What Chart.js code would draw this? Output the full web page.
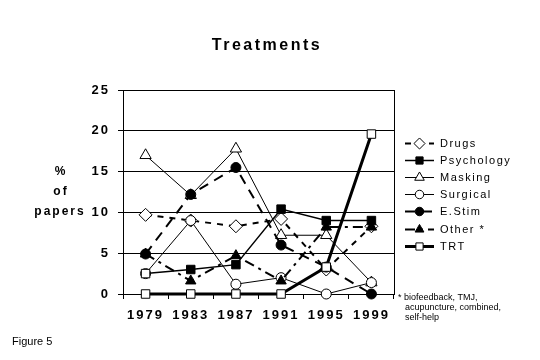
<!DOCTYPE html>
<html>
<head>
<meta charset="utf-8">
<script src="https://cdn.jsdelivr.net/npm/chart.js@4/dist/chart.umd.min.js"></script>
<style>
html,body{margin:0;padding:0;background:#fff;}
canvas{display:block;}
</style>
</head>
<body>
<canvas id="c" width="540" height="360"></canvas>
<script>
const years = ['1979', '1983', '1987', '1991', '1995', '1999'];
const yTicks = [0, 5, 10, 15, 20, 25];
const drugs      = [9.7, 9.0, 8.3, 9.2, 3.0, 8.3];
const psychology = [2.5, 3.0, 3.6, 10.4, 9.0, 9.0];
const masking    = [17.0, 12.1, 17.8, 7.2, 7.2, 1.4];
const surgical   = [2.5, 9.0, 1.2, 2.0, 0, 1.4];
const eStim      = [4.9, 12.2, 15.5, 6.0, 3.3, 0];
const other      = [4.9, 1.6, 4.7, 1.6, 8.2, 8.2];
const trt        = [0, 0, 0, 0, 3.3, 19.6];
const seriesNames = ['Drugs', 'Psychology', 'Masking', 'Surgical', 'E.Stim', 'Other *', 'TRT'];
const footnote = ['* biofeedback, TMJ,', 'acupuncture, combined,', 'self-help'];

const FONT = '"Liberation Sans", Arial, sans-serif';

function ds(label, data, style, order) {
  return Object.assign({
    label, data, order,
    borderColor: '#000',
    pointBorderColor: '#000',
    pointBorderWidth: 1,
    tension: 0,
    clip: false
  }, style);
}

const datasets = [
  ds(seriesNames[0], drugs, {borderWidth: 2, borderDash: [6, 6], pointStyle: 'rectRot', pointRadius: 6.5, pointBackgroundColor: '#fff'}, 6),
  ds(seriesNames[1], psychology, {borderWidth: 1.5, pointStyle: 'rect', pointRadius: 6, pointBackgroundColor: ['#fff', '#000', '#000', '#000', '#000', '#000']}, 3),
  ds(seriesNames[2], masking, {borderWidth: 1, pointStyle: 'triangle', pointRadius: 6.5, pointBackgroundColor: '#fff'}, 5),
  ds(seriesNames[3], surgical, {borderWidth: 1, pointStyle: 'circle', pointRadius: 5, pointBackgroundColor: '#fff'}, 4),
  ds(seriesNames[4], eStim, {borderWidth: 2, borderDash: [10, 7], pointStyle: 'circle', pointRadius: 5, pointBackgroundColor: '#000'}, 2),
  ds(seriesNames[5], other, {borderWidth: 2, borderDash: [10, 5, 3, 5], pointStyle: 'triangle', pointRadius: 6, pointBackgroundColor: '#000'}, 1),
  ds(seriesNames[6], trt, {borderWidth: 3, pointStyle: 'rect', pointRadius: 6, pointBackgroundColor: '#fff'}, 0)
];

const spacingPlugin = {
  id: 'spacing',
  beforeDraw(chart) { chart.ctx.letterSpacing = '2px'; },
  afterDraw(chart) {
    const ctx = chart.ctx;
    const a = chart.chartArea;
    ctx.save();
    // right frame line
    ctx.strokeStyle = '#000';
    ctx.lineWidth = 1;
    ctx.beginPath();
    ctx.moveTo(Math.round(a.right) + 0.5, a.top);
    ctx.lineTo(Math.round(a.right) + 0.5, a.bottom);
    ctx.stroke();

    ctx.fillStyle = '#000';
    // title
    ctx.letterSpacing = '2.5px';
    ctx.font = 'bold 16px ' + FONT;
    ctx.textAlign = 'center';
    ctx.textBaseline = 'middle';
    ctx.fillText('Treatments', 267, 46);

    // y axis title
    ctx.letterSpacing = '2px';
    ctx.font = 'bold 12px ' + FONT;
    ctx.fillText('%', 61, 172);
    ctx.fillText('of', 61, 192);
    ctx.fillText('papers', 60, 212);

    // legend
    ctx.letterSpacing = '1.5px';
    ctx.font = '11px ' + FONT;
    ctx.textAlign = 'left';
    const rowY0 = 143, rowStep = 17.1;
    chart.data.datasets.forEach((d, i) => {
      const y = Math.round(rowY0 + i * rowStep) + 0.5;
      ctx.save();
      ctx.strokeStyle = '#000';
      ctx.lineWidth = d.borderWidth;
      ctx.setLineDash(d.borderDash || []);
      ctx.beginPath();
      ctx.moveTo(405, y);
      ctx.lineTo(434, y);
      ctx.stroke();
      ctx.setLineDash([]);
      ctx.lineWidth = 1;
      const bg = Array.isArray(d.pointBackgroundColor) ? d.pointBackgroundColor[d.pointBackgroundColor.length - 1] : d.pointBackgroundColor;
      ctx.fillStyle = bg;
      ctx.strokeStyle = '#000';
      Chart.helpers.drawPoint(ctx, {pointStyle: d.pointStyle, radius: d.pointRadius * 0.85, rotation: 0, borderWidth: 1}, 419.5, y);
      ctx.restore();
      ctx.fillStyle = '#000';
      ctx.textBaseline = 'middle';
      ctx.fillText(d.label, 440, y);
    });

    // footnote
    ctx.letterSpacing = '0px';
    ctx.font = '9px ' + FONT;
    ctx.textBaseline = 'middle';
    ctx.fillText(footnote[0], 398, 298);
    ctx.fillText(footnote[1], 405, 308);
    ctx.fillText(footnote[2], 405, 318);

    // figure label
    ctx.font = '11px ' + FONT;
    ctx.fillText('Figure 5', 12, 342);
    ctx.restore();
  }
};

new Chart(document.getElementById('c'), {
  type: 'line',
  data: { labels: years, datasets },
  options: {
    responsive: false,
    animation: false,
    events: [],
    layout: { padding: { left: 80, right: 146, top: 90, bottom: 20 } },
    plugins: { legend: { display: false }, title: { display: false }, tooltip: { enabled: false } },
    scales: {
      x: {
        type: 'category',
        offset: true,
        afterFit: s => { s.height = 46; },
        border: { display: true, color: '#000', width: 1 },
        grid: { offset: true, drawOnChartArea: false, drawTicks: true, tickLength: 5, color: '#000' },
        ticks: { color: '#000', padding: 9, maxRotation: 0, font: { family: FONT, size: 13, weight: 'bold' } }
      },
      y: {
        min: 0, max: 25,
        afterFit: s => { s.width = 43; },
        afterBuildTicks: s => { s.ticks = yTicks.map(v => ({ value: v })); },
        border: { display: true, color: '#000', width: 1 },
        grid: { color: '#000', lineWidth: 1, tickLength: 5, drawTicks: true },
        ticks: { color: '#000', padding: 8, font: { family: FONT, size: 13, weight: 'bold' } }
      }
    }
  },
  plugins: [spacingPlugin]
});
</script>
</body>
</html>
